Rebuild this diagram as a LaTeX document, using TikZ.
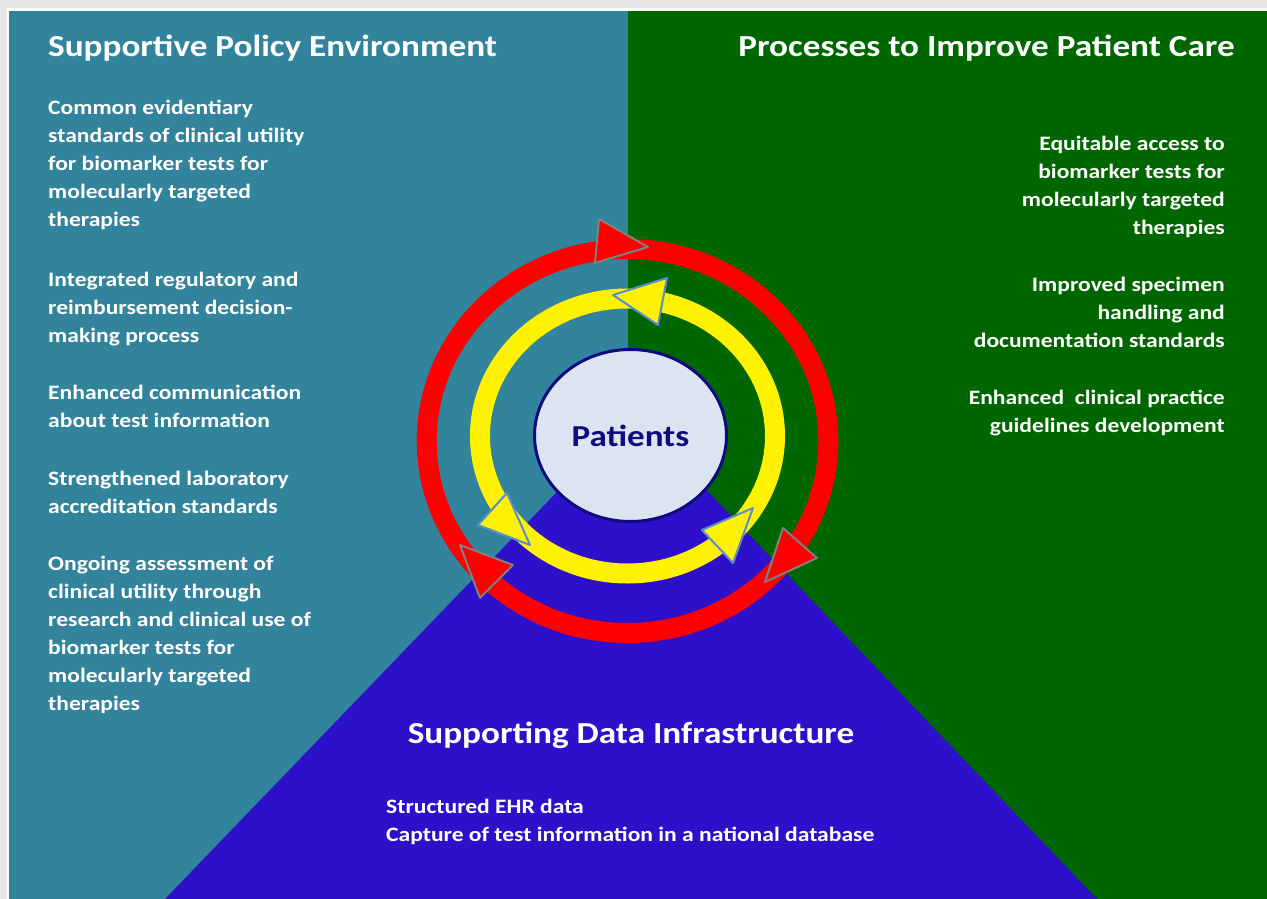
\documentclass[tikz,border=0pt]{standalone}
\usepackage{fontspec}
\setmainfont{Carlito}[FakeStretch=1.15]
\usepackage{xcolor}
\usetikzlibrary{positioning}
\usetikzlibrary{shapes.geometric}

\definecolor{pageGray}{RGB}{229,232,231}
\definecolor{policyTeal}{RGB}{49,132,155}
\definecolor{careGreen}{RGB}{0,102,0}
\definecolor{dataBlue}{RGB}{45,16,201}
\definecolor{patFill}{RGB}{220,228,242}
\definecolor{patNavy}{RGB}{12,12,128}
\definecolor{tipBlue}{RGB}{91,141,208}

\begin{document}
\begin{tikzpicture}[x=1pt,y=-1pt,
  title/.style={text=white,font=\fontsize{30.6}{36}\selectfont\bfseries,inner sep=0},
  item/.style={text=white,font=\fontsize{20.5}{28}\selectfont\bfseries,inner sep=0},
  ring/.style={line width=20pt},
  redtip/.style={fill=red,draw=gray,line width=2pt,line join=round},
  yeltip/.style={fill=yellow,draw=tipBlue,line width=2pt,line join=round},
  patient/.style={ellipse,draw=patNavy,line width=3pt,fill=patFill,
    minimum width=192pt,minimum height=172pt,text=patNavy,
    font=\fontsize{30.5}{36}\selectfont\bfseries}]
   \useasboundingbox (0,0) rectangle (1267,899);
   \fill[pageGray] (0,0) rectangle (1267,899);
   \fill[white] (7,8) rectangle (1267,899);
   \fill[policyTeal] (9,11) rectangle (628,899);
   \fill[careGreen] (628,11) rectangle (1267,899);
   \fill[dataBlue] (633,413) -- (165,899) -- (1097,899) -- cycle;

   \draw[ring,red] (627.5,441) ellipse [x radius=200.8,y radius=192];
   \draw[ring,yellow] (627.5,436) ellipse [x radius=147.5,y radius=137.5];

   \draw[redtip] (599,219) -- (648,247) -- (595,263) -- cycle;
   \draw[redtip] (460,545) -- (513,565) -- (480,598) -- cycle;
   \draw[redtip] (783,528) -- (817,558) -- (765,582) -- cycle;
   \draw[yeltip] (613,295) -- (667,278) -- (658,325) -- cycle;
   \draw[yeltip] (478,525) -- (507,493) -- (530,545) -- cycle;
   \draw[yeltip] (702,530) -- (753,508) -- (733,563) -- cycle;

   \node[patient] (pat) at (630.5,435.5) {Patients};

   \node[title,anchor=base west] (policy) at (48,57) {Supportive Policy Environment};
   \node[title,anchor=base east] (care) at (1235,57) {Processes to Improve Patient Care};
   \node[title,anchor=base] (data) at (631,743) {Supporting Data Infrastructure};

   \node[item,align=left,below=38pt of policy.south west,anchor=north west] (policyitems) {%
     Common evidentiary\\standards of clinical utility\\for biomarker tests for\\molecularly targeted\\therapies\\[32pt]
     Integrated regulatory and\\reimbursement decision-\\making process\\[29pt]
     Enhanced communication\\about test information\\[30pt]
     Strengthened laboratory\\accreditation standards\\[29pt]
     Ongoing assessment of\\clinical utility through\\research and clinical use of\\biomarker tests for\\molecularly targeted\\therapies};
   \node[item,align=right,below left=74pt and 10pt of care.south east,anchor=north east] (careitems) {%
     Equitable access to\\biomarker tests for\\molecularly targeted\\therapies\\[29pt]
     Improved specimen\\handling and\\documentation standards\\[29pt]
     Enhanced\ \ clinical practice\\guidelines development};
   \node[item,align=left,anchor=north west] (dataitems) at (386,799) {%
     Structured EHR data\\Capture of test information in a national database};
\end{tikzpicture}
\end{document}
